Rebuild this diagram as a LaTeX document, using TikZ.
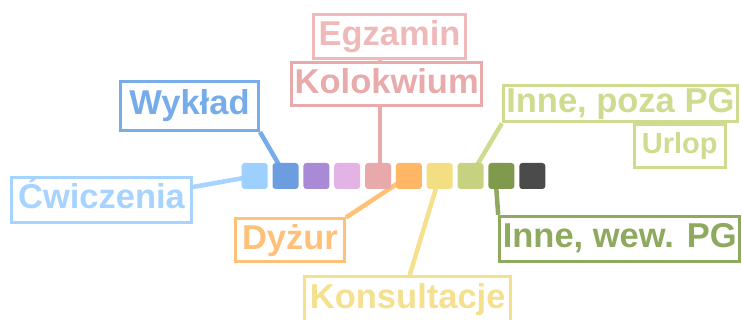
\documentclass[tikz,border=0pt]{standalone}
\usepackage{fontspec}
\setmainfont{Liberation Sans}
\usetikzlibrary{calc,backgrounds}
\definecolor{q1}{HTML}{9DCFFF}
\definecolor{q2}{HTML}{6C9DE0}
\definecolor{q3}{HTML}{A98AD6}
\definecolor{q4}{HTML}{E2B3E4}
\definecolor{q5}{HTML}{E7A9A9}
\definecolor{q6}{HTML}{FFB766}
\definecolor{q7}{HTML}{F3DE82}
\definecolor{q8}{HTML}{C6D27F}
\definecolor{q9}{HTML}{7F9A4C}
\definecolor{q10}{HTML}{4B4B4B}
\definecolor{lcw}{HTML}{A6D3FF}
\definecolor{lwy}{HTML}{77ACEA}
\definecolor{leg}{HTML}{F0B9B9}
\definecolor{lko}{HTML}{E8AAAA}
\definecolor{ldy}{HTML}{FFC078}
\definecolor{lks}{HTML}{F5E08E}
\definecolor{lip}{HTML}{CFDB8E}
\definecolor{liw}{HTML}{8FA95E}
\begin{document}
\begin{tikzpicture}[x=1pt,y=-1pt,
  sq/.style={rounded corners=3pt, minimum size=26pt, inner sep=0pt, draw=none},
  lab/.style={draw, line width=3pt, fill=white, inner sep=0pt,
    font=\fontsize{34.5}{40}\selectfont\bfseries, text height=25pt, text depth=7pt},
  labs/.style={lab, font=\fontsize{29}{34}\selectfont\bfseries, text height=21pt, text depth=6pt},
  conn/.style={line width=4.5pt}]
\useasboundingbox (0,0) rectangle (742,320);
\clip (0,0) rectangle (742,320);
% squares
\node[sq, fill=q1]  (s1)  at (254.7,176) {};
\node[sq, fill=q2]  (s2)  at (285.5,176) {};
\node[sq, fill=q3]  (s3)  at (316.4,176) {};
\node[sq, fill=q4]  (s4)  at (347.2,176) {};
\node[sq, fill=q5]  (s5)  at (378.1,176) {};
\node[sq, fill=q6]  (s6)  at (408.9,176) {};
\node[sq, fill=q7]  (s7)  at (439.7,176) {};
\node[sq, fill=q8]  (s8)  at (470.6,176) {};
\node[sq, fill=q9]  (s9)  at (501.4,176) {};
\node[sq, fill=q10] (s10) at (532.3,176) {};
% labels
\node[lab, draw=lcw, text=lcw, minimum width=180pt, minimum height=45pt] (cw) at (101.5,200) {Ćwiczenia};
\node[lab, draw=lwy, text=lwy, minimum width=138pt, minimum height=49pt] (wy) at (189.5,106) {Wykład};
\node[lab, draw=leg, text=leg, minimum width=152pt, minimum height=44pt] (eg) at (389.5,36.7) {Egzamin};
\node[lab, draw=lko, text=lko, minimum width=190pt, minimum height=43pt] (ko) at (386.7,84.5) {Kolokwium};
\node[lab, draw=lip, text=lip, minimum width=234pt, minimum height=36pt] (ip) at (620.3,104) {Inne, poza PG};
\node[labs, draw=lip, text=lip, minimum width=91pt, minimum height=43pt] (ur) at (679.8,146.5) {Urlop};
\node[lab, draw=ldy, text=ldy, minimum width=109pt, minimum height=43pt] (dy) at (290,240.5) {Dyżur};
\node[lab, draw=lks, text=lks, text depth=25pt, minimum width=206pt, minimum height=65pt] (ks) at (407.7,309) {Konsultacje};
\node[lab, draw=liw, text=liw, minimum width=240pt, minimum height=45pt] (iw) at (619.7,238.8) {Inne, wew. PG};
% connectors
\begin{pgfonlayer}{background}
\draw[conn, lcw] ($(cw.east)+(0,-13)$) -- (s1.center);
\draw[conn, lwy] (wy.south east) -- (s2.center);
\draw[conn, leg] ($(s5 |- eg.south)+(2,0)$) -- ($(s5.center)+(2,0)$);
\draw[conn, lko] ($(s5 |- ko.south)+(2,0)$) -- ($(s5.center)+(2,0)$);
\draw[conn, ldy] (dy.north east) -- (s6.center);
\draw[conn, lks] ($(ks.north)+(2,0)$) -- (s7.center);
\draw[conn, lip] (ip.south west) -- (s8.center);
\draw[conn, liw] (iw.north west) -- ($(s9.center)+(-6,0)$);
\end{pgfonlayer}
\end{tikzpicture}
\end{document}
